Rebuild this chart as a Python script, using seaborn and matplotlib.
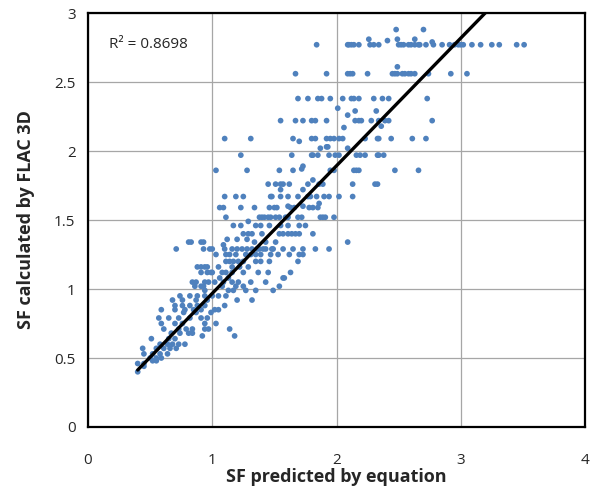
import matplotlib
matplotlib.use("Agg")
import matplotlib.pyplot as plt
import seaborn as sns
import numpy as np
import pandas as pd

# Observed SF levels (FLAC 3D) and predicted SF values at each level
levels = [2.88, 2.81, 2.80, 2.79, 2.77, 2.61, 2.56, 2.38, 2.31, 2.29, 2.26, 2.22, 2.18, 2.17,
          2.09, 2.07, 2.03, 2.02, 1.97, 1.89, 1.87, 1.86, 1.79, 1.76, 1.72, 1.67, 1.62, 1.60,
          1.59, 1.52, 1.49, 1.46, 1.40, 1.36, 1.34, 1.32, 1.29, 1.25, 1.20, 1.16, 1.12, 1.08,
          1.05, 1.02, 0.99, 0.95, 0.92, 0.88, 0.85, 0.83, 0.79, 0.75, 0.71, 0.68, 0.66, 0.64,
          0.60, 0.57, 0.53, 0.50, 0.48, 0.46, 0.44, 0.40]
pred_at_level = [
    [2.48, 2.70],
    [2.26, 2.49, 2.63],
    [2.41],
    [2.77],
    [1.84, 2.09, 2.10, 2.12, 2.14, 2.18, 2.27, 2.30, 2.34, 2.50, 2.52, 2.54, 2.58, 2.60, 2.63,
     2.66, 2.67, 2.72, 2.78, 2.85, 2.91, 2.95, 2.98, 3.00, 3.02, 3.09, 3.16, 3.25, 3.31, 3.45, 3.51],
    [2.49],
    [1.67, 1.92, 2.09, 2.11, 2.13, 2.25, 2.45, 2.47, 2.49, 2.53, 2.55, 2.58, 2.60, 2.63, 2.74, 2.92, 3.05],
    [1.69, 1.77, 1.85, 1.88, 1.95, 2.05, 2.12, 2.14, 2.18, 2.30, 2.37, 2.42, 2.73],
    [2.01],
    [2.15, 2.32],
    [2.09],
    [1.55, 1.67, 1.73, 1.80, 1.83, 1.92, 2.15, 2.18, 2.20, 2.28, 2.34, 2.39, 2.42, 2.77],
    [2.36],
    [2.06],
    [1.10, 1.31, 1.65, 1.80, 1.83, 1.92, 1.95, 1.98, 2.02, 2.05, 2.23, 2.33, 2.34, 2.44, 2.61, 2.72],
    [1.70],
    [1.92, 1.93],
    [1.87, 2.09],
    [1.23, 1.64, 1.80, 1.81, 1.85, 1.94, 1.99, 2.02, 2.16, 2.19, 2.23, 2.33, 2.34, 2.38],
    [1.73],
    [1.72],
    [1.03, 1.28, 1.54, 1.65, 1.95, 1.98, 2.14, 2.16, 2.18, 2.47, 2.66],
    [1.81],
    [1.45, 1.51, 1.55, 1.57, 1.62, 1.77, 1.86, 1.89, 2.13, 2.31, 2.33],
    [1.55, 1.73],
    [1.10, 1.19, 1.25, 1.47, 1.48, 1.55, 1.61, 1.69, 1.77, 1.79, 1.84, 1.90, 1.94, 2.02, 2.13],
    [1.86],
    [1.61, 1.73],
    [1.06, 1.09, 1.23, 1.34, 1.46, 1.50, 1.52, 1.63, 1.66, 1.78, 1.81, 1.85],
    [1.11, 1.38, 1.40, 1.42, 1.45, 1.47, 1.51, 1.54, 1.59, 1.61, 1.69, 1.72, 1.87, 1.89, 1.91, 1.98],
    [1.29],
    [1.17, 1.23, 1.35, 1.39, 1.46, 1.55, 1.61, 1.70, 1.75],
    [1.25, 1.29, 1.32, 1.40, 1.54, 1.57, 1.61, 1.64, 1.67, 1.70, 1.81],
    [1.12, 1.20, 1.28],
    [0.81, 0.83, 0.91, 0.93, 1.34, 1.43, 1.51, 2.09],
    [1.09],
    [0.71, 0.93, 0.98, 1.00, 1.10, 1.16, 1.20, 1.24, 1.28, 1.32, 1.36, 1.38, 1.41, 1.43, 1.48,
     1.49, 1.57, 1.65, 1.73, 1.83, 1.94],
    [1.03, 1.11, 1.14, 1.19, 1.27, 1.31, 1.35, 1.39, 1.47, 1.53, 1.62, 1.70, 1.73],
    [1.11, 1.14, 1.17, 1.21, 1.25, 1.35, 1.39, 1.46, 1.69],
    [0.88, 0.91, 0.94, 0.96, 1.05, 1.16, 1.22, 1.29],
    [0.91, 0.96, 0.99, 1.00, 1.08, 1.11, 1.16, 1.25, 1.37, 1.45, 1.63],
    [1.06, 1.13, 1.57, 1.58],
    [0.84, 0.87, 0.94, 0.97, 1.02, 1.09, 1.16, 1.21, 1.31, 1.43],
    [0.86, 0.91, 0.93, 1.08, 1.19, 1.25, 1.54],
    [0.94, 1.13, 1.17, 1.27, 1.35, 1.49],
    [0.74, 0.82, 0.88, 0.94, 1.00, 1.05, 1.11],
    [0.68, 0.76, 0.87, 0.96, 1.20, 1.32],
    [0.70, 0.76, 0.82, 0.88, 0.94, 1.10],
    [0.59, 0.70, 0.78, 0.85, 0.91, 1.02, 1.05],
    [0.77, 0.87, 0.99],
    [0.57, 0.65, 0.73, 0.82, 0.91, 0.96],
    [0.59, 0.70, 0.76, 0.94, 1.03],
    [0.61, 0.73, 0.79, 0.84, 0.94, 0.97, 1.14],
    [0.67, 0.74, 0.81, 0.84],
    [0.92, 1.18],
    [0.51, 0.65, 0.70],
    [0.58, 0.64, 0.68, 0.73, 0.78],
    [0.44, 0.55, 0.61, 0.66, 0.71],
    [0.45, 0.52, 0.58, 0.64],
    [0.50, 0.55, 0.59],
    [0.52, 0.55],
    [0.40, 0.45],
    [0.45],
    [0.40],
]

# Fitted trend line (linear) and its R^2
fit_slope = 0.925
fit_intercept = 0.043
fit_x_range = [0.40, 3.20]
r_squared = 0.8698

x_ticks = [0, 1, 2, 3, 4]
y_ticks = [0, 0.5, 1, 1.5, 2, 2.5, 3]
x_tick_labels = ["0", "1", "2", "3", "4"]
y_tick_labels = ["0", "0.5", "1", "1.5", "2", "2.5", "3"]

rows = []
for lv, xs in zip(levels, pred_at_level):
    for xv in xs:
        rows.append((xv, lv))
df = pd.DataFrame(rows, columns=["pred", "flac"])

sns.set_style("white")
plt.rcParams["font.family"] = ["Open Sans", "DejaVu Sans"]

fig = plt.figure(figsize=(5.94, 4.91), dpi=100)
ax = fig.add_axes([88/594, 1-427/491, (585-88)/594, (427-13)/491])

sns.scatterplot(data=df, x="pred", y="flac", ax=ax, color="#4F81BD", s=17,
                linewidth=0, edgecolor="none", zorder=3)

fx = np.array(fit_x_range)
sns.lineplot(x=fx, y=fit_slope*fx + fit_intercept, ax=ax, color="black", linewidth=2.4, zorder=4)

ax.set_xlim(0, 4)
ax.set_ylim(0, 3)
ax.set_xticks(x_ticks)
ax.set_xticklabels(x_tick_labels, fontsize=11)
ax.set_yticks(y_ticks)
ax.set_yticklabels(y_tick_labels, fontsize=11)
ax.grid(True, color="#A6A6A6", linewidth=0.9)
ax.set_axisbelow(True)
for sp in ax.spines.values():
    sp.set_color("black")
    sp.set_linewidth(1.6)
ax.tick_params(axis="x", direction="out", length=4, color="#A6A6A6", pad=15)
ax.tick_params(axis="y", direction="out", length=4, color="#A6A6A6", pad=5)

ax.set_xlabel("SF predicted by equation", fontsize=13, fontweight="bold", labelpad=0)
ax.set_ylabel("SF calculated by FLAC 3D", fontsize=13, fontweight="bold", labelpad=14)

ax.text(0.17, 2.77, f"R² = {r_squared}", fontsize=11, ha="left", va="center")

fig.savefig("out.png", dpi=100)
